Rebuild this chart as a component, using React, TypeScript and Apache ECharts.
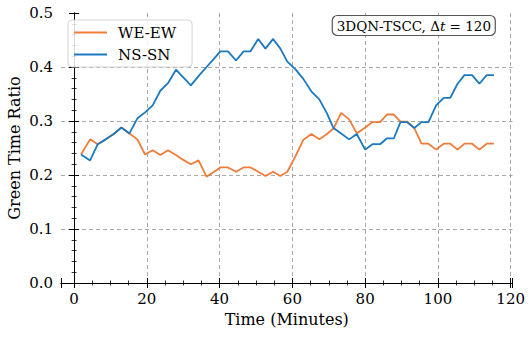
import React, { useEffect, useRef } from "react";
import * as echarts from "echarts";

const times = [
  1.9, 4.4, 6.5, 8.7, 10.9, 13.0, 15.2, 17.4, 19.5, 21.6, 23.7, 25.8, 28.0, 30.0,
  32.1, 34.2, 36.4, 38.3, 40.2, 42.3, 44.5, 46.6, 48.5, 50.6, 52.6, 54.7, 56.7,
  58.6, 60.8, 63.0, 65.2, 67.4, 69.5, 71.3, 73.4, 75.6, 77.7, 80.0, 82.0, 84.1,
  86.0, 87.9, 89.7, 91.5, 93.5, 95.5, 97.4, 99.5, 101.6, 103.4, 105.4, 107.3,
  109.4, 111.4, 113.4, 115.4,
];

const weEw = [
  0.238, 0.266, 0.257, 0.266, 0.276, 0.288, 0.277, 0.266, 0.238, 0.246, 0.237,
  0.246, 0.237, 0.228, 0.22, 0.227, 0.197, 0.205, 0.214, 0.214, 0.206, 0.214,
  0.214, 0.206, 0.198, 0.206, 0.198, 0.206, 0.234, 0.265, 0.276, 0.266, 0.276,
  0.286, 0.315, 0.303, 0.277, 0.288, 0.298, 0.298, 0.312, 0.312, 0.299, 0.299,
  0.287, 0.258, 0.258, 0.247, 0.258, 0.258, 0.247, 0.258, 0.258, 0.247, 0.258,
  0.258,
];

const nsSn = [
  0.238, 0.227, 0.257, 0.266, 0.276, 0.288, 0.277, 0.305, 0.316, 0.329, 0.356,
  0.37, 0.395, 0.381, 0.366, 0.383, 0.4, 0.414, 0.429, 0.429, 0.412, 0.429,
  0.429, 0.452, 0.434, 0.452, 0.434, 0.41, 0.396, 0.378, 0.355, 0.34, 0.314,
  0.287, 0.277, 0.266, 0.276, 0.247, 0.257, 0.257, 0.268, 0.268, 0.298, 0.298,
  0.287, 0.298, 0.298, 0.329, 0.343, 0.343, 0.369, 0.385, 0.385, 0.369, 0.385,
  0.385,
];

const seriesNames = ["WE-EW", "NS-SN"];
const seriesColors = ["#f07c3a", "#1a79c0"];
const xTickValues = [0, 20, 40, 60, 80, 100, 120];
const xTitle = "Time (Minutes)";
const yTitle = "Green Time Ratio";

const FONT = "DejaVu Serif";
const LEGEND_ICON = "path://M0,0 L33,0 L33,2 L0,2 Z";

export default function App() {
  const ref = useRef<HTMLDivElement>(null);

  useEffect(() => {
    const chart = echarts.init(ref.current!, null, { renderer: "svg" });
    const xMin = -3.6;
    const xMax = 120.5;

    const baseX = {
      type: "value" as const,
      min: xMin,
      max: xMax,
      splitNumber: 6,
      axisLine: { show: true, lineStyle: { color: "#000", width: 1 } },
      axisTick: { show: true, inside: true, length: 5, lineStyle: { color: "#000", width: 1 } },
      minorTick: { show: true, splitNumber: 4, length: 2.5, lineStyle: { color: "#000", width: 0.8 } },
    };
    const baseY = {
      type: "value" as const,
      min: 0,
      max: 0.5,
      interval: 0.1,
      axisLine: { show: true, lineStyle: { color: "#000", width: 1 } },
      axisTick: { show: true, inside: true, length: 5, lineStyle: { color: "#000", width: 1 } },
      minorTick: { show: true, splitNumber: 5, length: 2.5, lineStyle: { color: "#000", width: 0.8 } },
    };

    chart.setOption({
      animation: false,
      backgroundColor: "#fff",
      textStyle: { fontFamily: FONT },
      grid: {
        left: 61,
        top: 13,
        right: 18.5,
        bottom: 55,
        containLabel: false,
        outerBoundsMode: "none",
      },
      title: {
        text: "3DQN-TSCC, Δ{it|t} = 120",
        right: 35,
        top: 15,
        padding: [4, 5, 3, 5],
        backgroundColor: "#fff",
        borderColor: "#555",
        borderWidth: 1.2,
        borderRadius: 5,
        textStyle: {
          fontFamily: FONT,
          fontSize: 13.5,
          fontWeight: "normal",
          color: "#000",
          rich: {
            it: { fontFamily: FONT, fontSize: 13.5, fontStyle: "italic", color: "#000" },
          },
        },
      },
      legend: {
        data: seriesNames.map((n) => ({ name: n, icon: LEGEND_ICON })),
        orient: "vertical",
        left: 68,
        top: 20,
        itemWidth: 33,
        itemHeight: 14,
        itemGap: 7,
        padding: [5, 16, 5, 6],
        backgroundColor: "rgba(255,255,255,0.85)",
        borderColor: "#d4d4d4",
        borderWidth: 1,
        borderRadius: 4,
        textStyle: { fontFamily: FONT, fontSize: 15, fontWeight: "normal", color: "#000", padding: [0, 0, 0, 6] },
      },
      xAxis: [
        {
          ...baseX,
          position: "bottom",
          name: xTitle,
          nameLocation: "middle",
          nameGap: 28,
          nameMoveOverlap: false,
          nameTextStyle: { fontFamily: FONT, fontSize: 16, fontWeight: "normal", color: "#000" },
          axisLabel: {
            show: true,
            showMinLabel: false,
            showMaxLabel: false,
            margin: 8,
            fontFamily: FONT,
            fontSize: 15,
            fontWeight: "normal",
            color: "#000",
            formatter: (v: number) => (xTickValues.includes(Math.round(v * 1000) / 1000) ? String(v) : ""),
          },
          splitLine: {
            show: true,
            showMinLine: false,
            showMaxLine: false,
            lineStyle: { color: "#a0a0a0", width: 0.9, type: [4, 3] },
          },
        },
        {
          ...baseX,
          position: "top",
          axisLabel: { show: false },
          splitLine: { show: false },
        },
      ],
      yAxis: [
        {
          ...baseY,
          position: "left",
          name: yTitle,
          nameLocation: "middle",
          nameGap: 39,
          nameMoveOverlap: false,
          nameTextStyle: { fontFamily: FONT, fontSize: 16, fontWeight: "normal", color: "#000" },
          axisLabel: {
            show: true,
            margin: 8,
            fontFamily: FONT,
            fontSize: 15,
            fontWeight: "normal",
            color: "#000",
            formatter: (v: number) => v.toFixed(1),
          },
          splitLine: {
            show: true,
            showMinLine: false,
            showMaxLine: false,
            lineStyle: { color: "#a0a0a0", width: 0.9, type: [4, 3] },
          },
        },
        {
          ...baseY,
          position: "right",
          axisLabel: { show: false },
          splitLine: { show: false },
        },
      ],
      series: [
        {
          name: seriesNames[0],
          type: "line",
          xAxisIndex: 0,
          yAxisIndex: 0,
          data: times.map((t, i) => [t, weEw[i]]),
          showSymbol: false,
          symbol: "none",
          color: seriesColors[0],
          itemStyle: { color: seriesColors[0] },
          lineStyle: { color: seriesColors[0], width: 1.8 },
        },
        {
          name: seriesNames[1],
          type: "line",
          xAxisIndex: 0,
          yAxisIndex: 0,
          data: times.map((t, i) => [t, nsSn[i]]),
          showSymbol: false,
          symbol: "none",
          color: seriesColors[1],
          itemStyle: { color: seriesColors[1] },
          lineStyle: { color: seriesColors[1], width: 1.8 },
        },
      ],
    });

    return () => chart.dispose();
  }, []);

  return (
    <div
      ref={ref}
      style={{ position: "absolute", left: 0, top: 0, width: 531, height: 338 }}
    />
  );
}
